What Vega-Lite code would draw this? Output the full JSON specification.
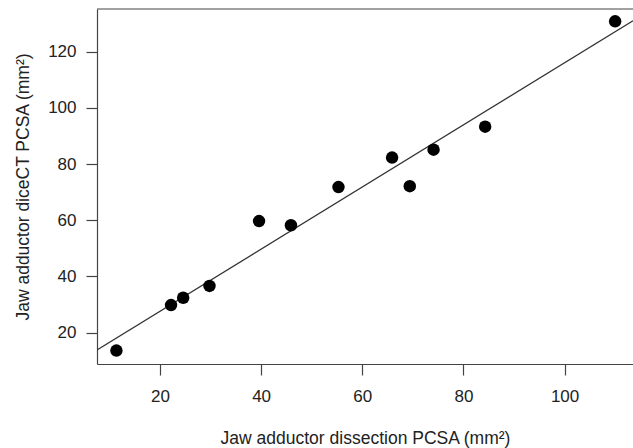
{
  "$schema": "https://vega.github.io/schema/vega-lite/v6.json",
  "width": 536,
  "height": 355,
  "autosize": {"type": "none"},
  "padding": {"left": 97, "top": 9, "right": 0, "bottom": 84},
  "background": "white",
  "config": {
    "view": {"stroke": null},
    "font": "Liberation Sans",
    "axis": {
      "grid": false,
      "domainColor": "#444",
      "domainWidth": 1.2,
      "tickColor": "#444",
      "tickWidth": 1.2,
      "tickSize": 11,
      "labelFont": "Liberation Sans",
      "labelFontSize": 17,
      "labelColor": "#222",
      "titleFont": "Liberation Sans",
      "titleFontSize": 17.5,
      "titleFontWeight": "normal",
      "titleColor": "#222"
    }
  },
  "datasets": {
    "pts": [
      {"dissection": 11.4, "dicect": 13.6},
      {"dissection": 22.2, "dicect": 29.8},
      {"dissection": 24.6, "dicect": 32.4},
      {"dissection": 29.8, "dicect": 36.6},
      {"dissection": 39.6, "dicect": 59.7},
      {"dissection": 45.9, "dicect": 58.2},
      {"dissection": 55.3, "dicect": 71.8},
      {"dissection": 65.9, "dicect": 82.3},
      {"dissection": 69.4, "dicect": 72.1},
      {"dissection": 74.1, "dicect": 85.1},
      {"dissection": 84.3, "dicect": 93.3},
      {"dissection": 110.0, "dicect": 130.8}
    ],
    "fit": [
      {"dissection": 7.56, "dicect": 13.8},
      {"dissection": 113.53, "dicect": 131.0}
    ]
  },
  "layer": [
    {
      "data": {"name": "fit"},
      "mark": {"type": "line", "color": "#333", "strokeWidth": 1.3, "clip": true},
      "encoding": {
        "x": {
          "field": "dissection", "type": "quantitative",
          "scale": {"domain": [7.56, 113.53], "nice": false, "zero": false},
          "axis": {"values": [20, 40, 60, 80, 100], "title": "Jaw adductor dissection PCSA (mm²)", "labelPadding": 13, "titlePadding": 25}
        },
        "y": {
          "field": "dicect", "type": "quantitative",
          "scale": {"domain": [8.82, 135.18], "nice": false, "zero": false},
          "axis": {"values": [20, 40, 60, 80, 100, 120], "title": "Jaw adductor diceCT PCSA (mm²)", "labelPadding": 10, "titlePadding": 15}
        }
      }
    },
    {
      "data": {"name": "pts"},
      "mark": {"type": "circle", "color": "black", "opacity": 1, "size": 155},
      "encoding": {
        "x": {"field": "dissection", "type": "quantitative"},
        "y": {"field": "dicect", "type": "quantitative"}
      }
    },
    {
      "data": {"values": [{}]},
      "mark": {"type": "rule", "color": "#444", "strokeWidth": 1.2},
      "encoding": {"y": {"datum": 135.18}}
    }
  ]
}
